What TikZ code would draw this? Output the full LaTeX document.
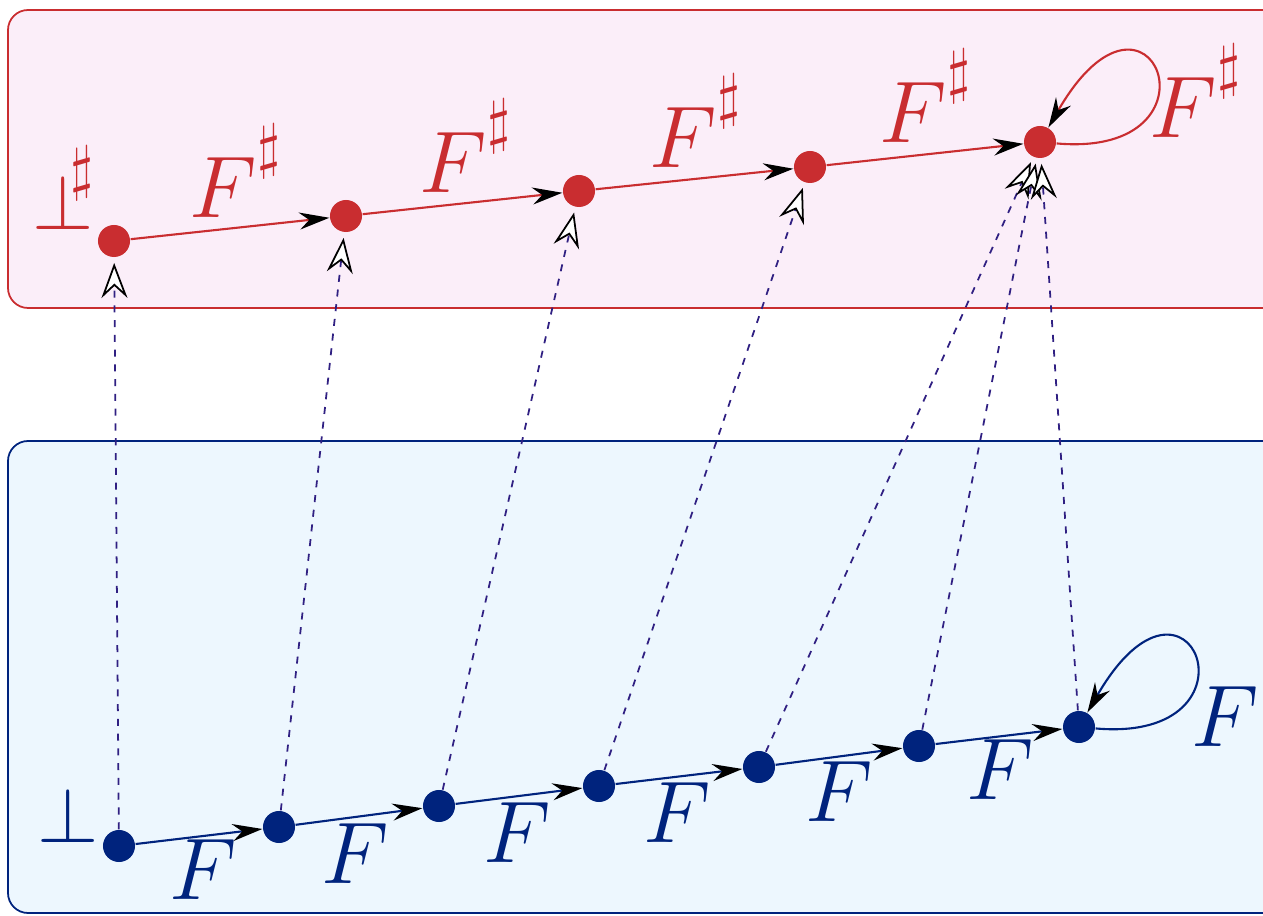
\documentclass[tikz,border=0pt]{standalone}
\usepackage{amssymb}
\usetikzlibrary{arrows.meta}
\definecolor{shred}{RGB}{201,45,48}
\definecolor{shpink}{RGB}{251,238,249}
\definecolor{shnavy}{RGB}{0,35,125}
\definecolor{shsky}{RGB}{237,247,254}
\definecolor{shdash}{RGB}{48,32,130}
\newcommand{\shp}[1]{\raisebox{#1}{$\scriptscriptstyle\sharp$}}
\newcommand{\sbot}{\scalebox{0.9}{$\bot$}}

\begin{document}
\begin{tikzpicture}[
  x=0.01cm, y=-0.01cm,
  font=\Huge,
  >={Stealth[black, length=3mm, width=1.7mm]},
  adot/.style  ={circle, fill=shred,  inner sep=0pt, minimum size=3.2mm},
  cdot/.style  ={circle, fill=shnavy, inner sep=0pt, minimum size=3.2mm},
  astep/.style ={->, draw=shred,  semithick},
  cstep/.style ={->, draw=shnavy, semithick},
  alab/.style  ={anchor=base, text=shred,  inner sep=0pt},
  clab/.style  ={anchor=base, text=shnavy, inner sep=0pt},
  selfloop/.style={out=-5, in=60, out distance=1.75cm, in distance=2.05cm},
  absmap/.style={draw=shdash, line width=0.5pt, dash pattern=on 2pt off 2.2pt,
                 -{Stealth[black, fill=white, length=3.5mm, width=2.6mm, inset=1.2mm, line width=0.5pt]}}
]
\useasboundingbox (0,0) rectangle (1263,916);

% --- the two domains ---
\draw[shred,  fill=shpink, rounded corners=2mm, line width=0.5pt] (8,10)  rectangle (1300,308);
\draw[shnavy, fill=shsky,  rounded corners=2mm, line width=0.5pt] (8,441) rectangle (1300,913);

% --- abstract iterates (top) ---
\node[adot] (a1) at (114,241) {};
\node[adot] (a2) at (346,216) {};
\node[adot] (a3) at (579,191) {};
\node[adot] (a4) at (810,167) {};
\node[adot] (a5) at (1040,142) {};
\node[alab, anchor=base west] (abot) at (32,230)
  {\makebox[0pt][l]{\hspace{10.8pt}\shp{11.9pt}}\sbot};

\draw[astep] (a1) -- (a2);
\draw[astep] (a2) -- (a3);
\draw[astep] (a3) -- (a4);
\draw[astep] (a4) -- (a5);
\draw[astep] (a5) to[selfloop] (a5);

\node[alab] (af1) at (236,218)  {$F^{\shp{5.5pt}}$};
\node[alab] (af2) at (466,193)  {$F^{\shp{5.5pt}}$};
\node[alab] (af3) at (696,168)  {$F^{\shp{5.5pt}}$};
\node[alab] (af4) at (926,143)  {$F^{\shp{5.5pt}}$};
\node[alab] (af5) at (1196,138) {$F^{\shp{5.5pt}}$};

% --- concrete iterates (bottom) ---
\node[cdot] (c1) at (119,846) {};
\node[cdot] (c2) at (279,827) {};
\node[cdot] (c3) at (439,806) {};
\node[cdot] (c4) at (599,786) {};
\node[cdot] (c5) at (759,767) {};
\node[cdot] (c6) at (919,746) {};
\node[cdot] (c7) at (1079,727) {};
\node[clab, anchor=base west] (cbot) at (37,843) {\sbot};

\draw[cstep] (c1) -- (c2);
\draw[cstep] (c2) -- (c3);
\draw[cstep] (c3) -- (c4);
\draw[cstep] (c4) -- (c5);
\draw[cstep] (c5) -- (c6);
\draw[cstep] (c6) -- (c7);
\draw[cstep] (c7) to[selfloop] (c7);

\node[clab] (cf1) at (203,900)  {$F$};
\node[clab] (cf2) at (355,884)  {$F$};
\node[clab] (cf3) at (517,863)  {$F$};
\node[clab] (cf4) at (677,843)  {$F$};
\node[clab] (cf5) at (839,822)  {$F$};
\node[clab] (cf6) at (1000,800) {$F$};
\node[clab] (cf7) at (1225,747) {$F$};

% --- abstraction maps ---
\draw[absmap, shorten >=1.5pt] (c1) -- (a1);
\draw[absmap, shorten >=1.5pt] (c2) -- (a2);
\draw[absmap, shorten >=1.5pt] (c3) -- (a3);
\draw[absmap, shorten >=1.5pt] (c4) -- (a4);
\draw[absmap, shorten >=1.5pt] (c5) -- (a5);
\draw[absmap, shorten >=1.5pt] (c6) -- (a5);
\draw[absmap, shorten >=1.5pt] (c7) -- (a5);

\end{tikzpicture}
\end{document}
